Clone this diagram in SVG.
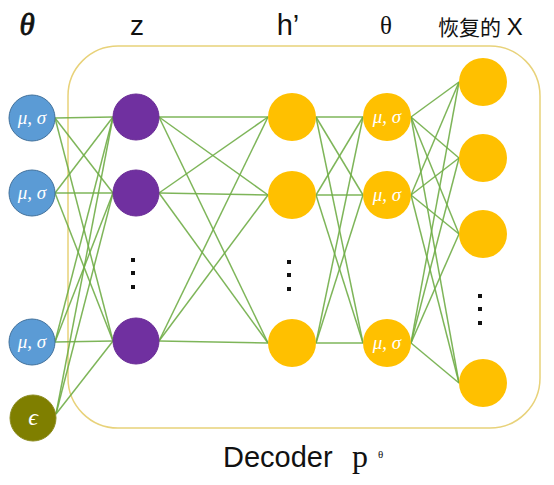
<svg xmlns="http://www.w3.org/2000/svg" width="554" height="485" viewBox="0 0 554 485">
<style>
.c{stroke:#70AD47;stroke-width:1.5;fill:none;opacity:0.9}
.blue{fill:#5B9BD5;stroke:#41719C;stroke-width:1}
.purple{fill:#7030A0;stroke:#6A2C96;stroke-width:1}
.yel{fill:#FFC000}
.eps{fill:#7F7F00;stroke:#8C8C20;stroke-width:1}
.ms{font-family:"Liberation Serif",serif;font-style:italic;font-size:19px;fill:#FFFFFF;text-anchor:middle}
.ep{font-family:"Liberation Serif",serif;font-style:italic;font-size:24px;fill:#FFFFFF;text-anchor:middle}
.dot{fill:#111111}
.lab{fill:#111111;text-anchor:middle}
</style>
<rect width="554" height="485" fill="#FFFFFF"/>
<rect x="68" y="46" width="472" height="382" rx="50" ry="50" fill="none" stroke="#E8D27A" stroke-width="1.5"/>
<g id="connectors">
<line class="c" x1="55" y1="118" x2="113" y2="117"/>
<line class="c" x1="55" y1="118" x2="113" y2="193"/>
<line class="c" x1="55" y1="118" x2="113" y2="341"/>
<line class="c" x1="55" y1="193" x2="113" y2="117"/>
<line class="c" x1="55" y1="193" x2="113" y2="193"/>
<line class="c" x1="55" y1="193" x2="113" y2="341"/>
<line class="c" x1="55" y1="342" x2="113" y2="117"/>
<line class="c" x1="55" y1="342" x2="113" y2="193"/>
<line class="c" x1="55" y1="342" x2="113" y2="341"/>
<line class="c" x1="56" y1="414" x2="113" y2="117"/>
<line class="c" x1="56" y1="414" x2="113" y2="193"/>
<line class="c" x1="56" y1="414" x2="113" y2="341"/>
<line class="c" x1="159" y1="117" x2="268" y2="117"/>
<line class="c" x1="159" y1="117" x2="268" y2="195"/>
<line class="c" x1="159" y1="117" x2="268" y2="343"/>
<line class="c" x1="159" y1="193" x2="268" y2="117"/>
<line class="c" x1="159" y1="193" x2="268" y2="195"/>
<line class="c" x1="159" y1="193" x2="268" y2="343"/>
<line class="c" x1="159" y1="341" x2="268" y2="117"/>
<line class="c" x1="159" y1="341" x2="268" y2="195"/>
<line class="c" x1="159" y1="341" x2="268" y2="343"/>
<line class="c" x1="316" y1="117" x2="363" y2="117"/>
<line class="c" x1="316" y1="117" x2="363" y2="195"/>
<line class="c" x1="316" y1="117" x2="363" y2="343"/>
<line class="c" x1="316" y1="195" x2="363" y2="117"/>
<line class="c" x1="316" y1="195" x2="363" y2="195"/>
<line class="c" x1="316" y1="195" x2="363" y2="343"/>
<line class="c" x1="316" y1="343" x2="363" y2="117"/>
<line class="c" x1="316" y1="343" x2="363" y2="195"/>
<line class="c" x1="316" y1="343" x2="363" y2="343"/>
<line class="c" x1="411" y1="117" x2="459" y2="82"/>
<line class="c" x1="411" y1="117" x2="459" y2="158"/>
<line class="c" x1="411" y1="117" x2="459" y2="234"/>
<line class="c" x1="411" y1="117" x2="459" y2="383"/>
<line class="c" x1="411" y1="195" x2="459" y2="82"/>
<line class="c" x1="411" y1="195" x2="459" y2="158"/>
<line class="c" x1="411" y1="195" x2="459" y2="234"/>
<line class="c" x1="411" y1="195" x2="459" y2="383"/>
<line class="c" x1="411" y1="343" x2="459" y2="82"/>
<line class="c" x1="411" y1="343" x2="459" y2="158"/>
<line class="c" x1="411" y1="343" x2="459" y2="234"/>
<line class="c" x1="411" y1="343" x2="459" y2="383"/>
</g>
<g id="in1"><circle class="blue" cx="32" cy="118" r="23"/><text class="ms" x="32" y="124">μ, σ</text></g>
<g id="in2"><circle class="blue" cx="32" cy="193" r="23"/><text class="ms" x="32" y="199">μ, σ</text></g>
<g id="in3"><circle class="blue" cx="32" cy="342" r="23"/><text class="ms" x="32" y="348">μ, σ</text></g>
<g id="eps"><circle class="eps" cx="33" cy="418" r="23"/><text class="ep" x="33" y="425">ϵ</text></g>
<g id="z1"><circle class="purple" cx="136" cy="117" r="23"/></g>
<g id="z2"><circle class="purple" cx="136" cy="193" r="23"/></g>
<g id="z3"><circle class="purple" cx="136" cy="341" r="23"/></g>
<g id="zdots"><rect class="dot" x="131" y="258" width="4" height="4"/><rect class="dot" x="131" y="271" width="4" height="4"/><rect class="dot" x="131" y="285" width="4" height="4"/></g>
<g id="h1"><circle class="yel" cx="292" cy="117" r="24"/></g>
<g id="h2"><circle class="yel" cx="292" cy="195" r="24"/></g>
<g id="h3"><circle class="yel" cx="292" cy="343" r="24"/></g>
<g id="hdots"><rect class="dot" x="287" y="260" width="4" height="4"/><rect class="dot" x="287" y="273" width="4" height="4"/><rect class="dot" x="287" y="287" width="4" height="4"/></g>
<g id="t1"><circle class="yel" cx="387" cy="117" r="24"/><text class="ms" x="387" y="123">μ, σ</text></g>
<g id="t2"><circle class="yel" cx="387" cy="195" r="24"/><text class="ms" x="387" y="201">μ, σ</text></g>
<g id="t3"><circle class="yel" cx="387" cy="343" r="24"/><text class="ms" x="387" y="349">μ, σ</text></g>
<g id="x1"><circle class="yel" cx="483" cy="82" r="24"/></g>
<g id="x2"><circle class="yel" cx="483" cy="158" r="24"/></g>
<g id="x3"><circle class="yel" cx="483" cy="234" r="24"/></g>
<g id="x4"><circle class="yel" cx="483" cy="383" r="24"/></g>
<g id="xdots"><rect class="dot" x="478" y="294" width="4" height="4"/><rect class="dot" x="478" y="307" width="4" height="4"/><rect class="dot" x="478" y="321" width="4" height="4"/></g>
<g id="labels">
<text class="lab" x="27" y="35" font-family="Liberation Serif, serif" font-style="italic" font-size="31" stroke="#111111" stroke-width="0.8">θ</text>
<text class="lab" x="137" y="35" font-family="Liberation Sans, sans-serif" font-size="28">z</text>
<text class="lab" x="288" y="35" font-family="Liberation Sans, sans-serif" font-size="29">h’</text>
<text class="lab" x="386" y="34" font-family="Liberation Serif, serif" font-size="25">θ</text>
<text x="438" y="35" fill="#111111" font-family="Liberation Sans, Noto Sans CJK SC, sans-serif" font-size="21">恢复的 <tspan font-size="24">X</tspan></text>
<text x="223" y="467" fill="#111111" font-family="Liberation Sans, sans-serif" font-size="29">Decoder</text>
<text x="352" y="467" fill="#111111" font-family="Liberation Serif, serif" font-size="32">p</text>
<text x="378" y="458" fill="#111111" font-family="Liberation Serif, serif" font-size="11">θ</text>
</g>
</svg>
